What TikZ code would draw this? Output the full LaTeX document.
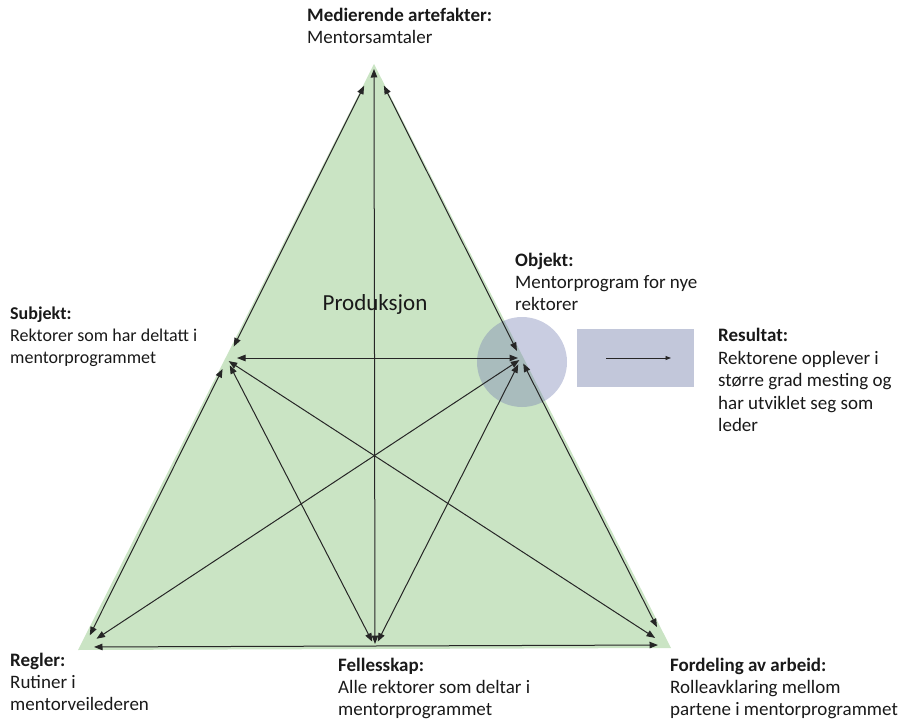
\documentclass[tikz,border=0pt]{standalone}
\usepackage{fontspec}
\setmainfont{Carlito}
\usetikzlibrary{arrows.meta}
\definecolor{trigreen}{RGB}{202,228,196}
\definecolor{circblue}{RGB}{120,130,180}
\definecolor{rectblue}{RGB}{194,199,218}
\definecolor{txt}{RGB}{25,25,25}
\begin{document}
\begin{tikzpicture}[x=1pt,y=-1pt,
  dbl/.style={{Triangle[length=8.5pt,width=6.5pt]}-{Triangle[length=8.5pt,width=6.5pt]}, line width=1pt, draw=black!85, shorten <=3pt, shorten >=3pt},
  lbl/.style={anchor=north west, inner sep=0pt, align=left, text=txt, font=\fontsize{19}{22}\selectfont},
  hdr/.style={font=\bfseries}]
\useasboundingbox (0,0) rectangle (905,722);
% triangle
\fill[trigreen] (374,64) -- (671,648) -- (78,650) -- cycle;
% circle and result box
\fill[circblue, opacity=0.4] (522,362) circle (45);
\fill[rectblue] (577,329) rectangle (694,387);
% points
\coordinate (A) at (374,66);
\coordinate (S) at (227,360);
\coordinate (O) at (521,359);
\coordinate (R) at (84,647);
\coordinate (F) at (375,647);
\coordinate (D) at (666,645);
\coordinate (Sh) at (236,358);
\coordinate (Oh) at (521,358);
\coordinate (ra) at (606,358);
\coordinate (rb) at (671,358);
% arrows
\draw[dbl] (A) -- (F);
\draw[dbl, shorten <=22pt, shorten >=15pt] (A) -- (S);
\draw[dbl, shorten <=22pt, shorten >=9pt] (A) -- (O);
\draw[dbl, shorten <=10pt, shorten >=13pt] (S) -- (R);
\draw[dbl, shorten <=5pt, shorten >=20pt] (O) -- (D);
\draw[dbl, shorten <=1pt, shorten >=3pt] (Sh) -- (Oh);
\draw[dbl, shorten <=6pt, shorten >=6pt] (S) -- (F);
\draw[dbl, shorten <=2pt, shorten >=13pt] (S) -- (D);
\draw[dbl, shorten <=2pt, shorten >=15pt] (O) -- (R);
\draw[dbl, shorten <=6pt, shorten >=6pt] (O) -- (F);
\draw[dbl, shorten <=10pt, shorten >=8pt] (R) -- (D);
\draw[-{Triangle[length=5.5pt,width=4pt]}, line width=0.9pt, draw=black!85] (ra) -- (rb);
% labels
\node[lbl] (med) at (307,8) {\textbf{Medierende artefakter:}\\Mentorsamtaler};
\node[lbl] (obj) at (515,253) {\textbf{Objekt:}\\Mentorprogram for nye\\rektorer};
\node[lbl, font=\fontsize{18}{22}\selectfont] (sub) at (10,307) {\textbf{Subjekt:}\\Rektorer som har deltatt i\\mentorprogrammet};
\node[lbl, font=\fontsize{19}{22.5}\selectfont] (res) at (718,328) {\textbf{Resultat:}\\Rektorene opplever i\\større grad mesting og\\har utviklet seg som\\leder};
\node[lbl] (reg) at (10,653) {\textbf{Regler:}\\Rutiner i\\mentorveilederen};
\node[lbl] (fel) at (338,658) {\textbf{Fellesskap:}\\Alle rektorer som deltar i\\mentorprogrammet};
\node[lbl] (for) at (670,658) {\textbf{Fordeling av arbeid:}\\Rolleavklaring mellom\\partene i mentorprogrammet};
\node[anchor=center, inner sep=0pt, text=txt, font=\fontsize{23}{27}\selectfont] (prod) at (375,304) {Produksjon};
\end{tikzpicture}
\end{document}
